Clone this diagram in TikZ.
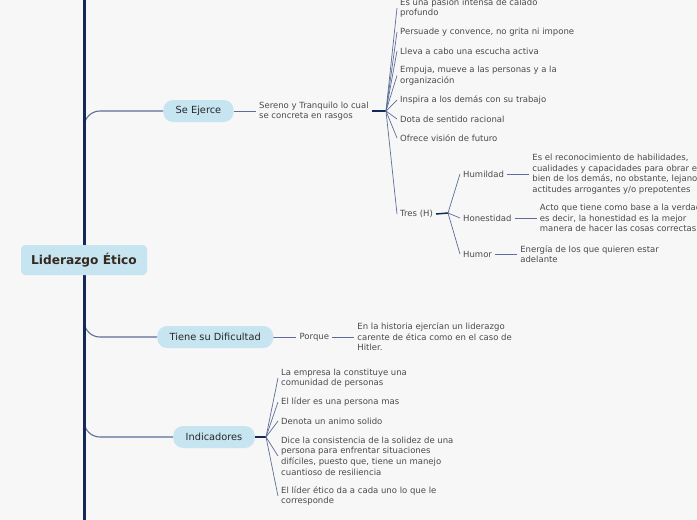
\documentclass[tikz,border=0pt]{standalone}
\usepackage{fontspec}
\setmainfont{DejaVu Sans}
\usepackage{tikz}
\usetikzlibrary{positioning, backgrounds, calc}
\definecolor{canvas}{HTML}{F7F7F7}
\definecolor{topicfill}{HTML}{C6E5F1}
\definecolor{spine}{HTML}{14295A}
\definecolor{twigblue}{HTML}{5D6E98}
\definecolor{leaftext}{HTML}{4A4A4A}
\definecolor{roottext}{HTML}{35281F}
\tikzset{
  central/.style={
    rectangle, rounded corners=4pt,
    minimum width=126pt, minimum height=30pt,
    fill=topicfill, text=roottext,
    font=\fontsize{12.2}{14}\selectfont\bfseries,
  },
  topic/.style={
    rectangle, rounded corners=10pt,
    minimum height=22pt, inner xsep=12.5pt,
    fill=topicfill, text=black!85,
    font=\fontsize{9.8}{11}\selectfont,
  },
  leaf/.style={
    inner xsep=3pt, inner ysep=1pt, align=left, anchor=west,
    text=leaftext, font=\fontsize{8.5}{10.6}\selectfont,
  },
  trunk/.style={line width=3pt, color=spine},
  branch/.style={line width=1.1pt, color=twigblue, rounded corners=16pt},
  twig/.style={line width=0.7pt, color=twigblue},
  hub/.style={line width=1.5pt, color=spine},
}

\begin{document}
\begin{tikzpicture}[x=1pt, y=-1pt]

  \useasboundingbox (0,0) rectangle (697,520);

  \node[central] (root) at (84,260) {Liderazgo Ético};
  \node[topic, anchor=west] (ejerce) at (163,111) {Se Ejerce};
  \node[topic, anchor=west] (dificultad) at (157,337) {Tiene su Dificultad};
  \node[topic, anchor=west] (indicadores) at (173,437) {Indicadores};

  % Se Ejerce
  \node[leaf, right=22pt of ejerce] (sereno) {Sereno y Tranquilo lo cual\\se concreta en rasgos};
  \coordinate (hubA) at (386,111);
  \node[leaf] (pasion) at (397,8) {Es una pasion intensa de calado\\profundo};
  \node[leaf] (persuade) at (397,32) {Persuade y convence, no grita ni impone};
  \node[leaf] (escucha) at (397,51) {Lleva a cabo una escucha activa};
  \node[leaf] (empuja) at (397,75.5) {Empuja, mueve a las personas y a la\\organización};
  \node[leaf] (inspira) at (397,100) {Inspira a los demás con su trabajo};
  \node[leaf] (dota) at (397,119) {Dota de sentido racional};
  \node[leaf] (futuro) at (397,138) {Ofrece visión de futuro};
  \node[leaf] (tres) at (397,214) {Tres (H)};

  \coordinate (hubB) at (448,213);
  \node[leaf] (humildad) at (460,174) {Humildad};
  \node[leaf] (honestidad) at (460,218) {Honestidad};
  \node[leaf] (humor) at (460,254) {Humor};
  \node[leaf, right=22pt of humildad] (humildadTxt) {Es el reconocimiento de habilidades,\\cualidades y capacidades para obrar en\\bien de los demás, no obstante, lejano de\\actitudes arrogantes y/o prepotentes};
  \node[leaf, right=22pt of honestidad] (honestidadTxt) {Acto que tiene como base a la verdad,\\es decir, la honestidad es la mejor\\manera de hacer las cosas correctas};
  \node[leaf, right=22pt of humor] (humorTxt) {Energía de los que quieren estar\\adelante};

  % Tiene su Dificultad
  \node[leaf, right=23pt of dificultad] (porque) {Porque};
  \node[leaf, right=22pt of porque] (historia) {En la historia ejercían un liderazgo\\carente de ética como en el caso de\\Hitler.};

  % Indicadores
  \coordinate (hubC) at (266,437);
  \node[leaf] (empresa) at (278,378) {La empresa la constituye una\\comunidad de personas};
  \node[leaf] (lider) at (278,402) {El líder es una persona mas};
  \node[leaf] (animo) at (278,421) {Denota un animo solido};
  \node[leaf] (consistencia) at (278,456) {Dice la consistencia de la solidez de una\\persona para enfrentar situaciones\\difíciles, puesto que, tiene un manejo\\cuantioso de resiliencia};
  \node[leaf] (etico) at (278,496) {El líder ético da a cada uno lo que le\\corresponde};

  \coordinate (top) at (84,0);
  \coordinate (bottom) at (84,520);

  \begin{scope}[on background layer]
    \fill[canvas] (0,0) rectangle (697,520);
    \draw[branch] (root.north) |- (ejerce.west);
    \draw[branch] (root.south) |- (dificultad.west);
    \draw[branch] (root.south) |- (indicadores.west);
    \draw[trunk] (top) -- (bottom);

    \draw[twig] (ejerce.east) -- (sereno.west);
    \draw[hub] (sereno.east) -- (hubA);
    \foreach \n in {pasion, persuade, escucha, empuja, inspira, dota, futuro, tres}
      \draw[twig] (hubA) -- (\n.west);

    \draw[hub] (tres.east) -- (hubB);
    \foreach \n in {humildad, honestidad, humor}
      \draw[twig] (hubB) -- (\n.west);
    \draw[twig] (humildad) -- (humildadTxt);
    \draw[twig] (honestidad) -- (honestidadTxt);
    \draw[twig] (humor) -- (humorTxt);

    \draw[twig] (dificultad) -- (porque);
    \draw[twig] (porque) -- (historia);

    \draw[hub] (indicadores.east) -- (hubC);
    \foreach \n in {empresa, lider, animo, consistencia, etico}
      \draw[twig] (hubC) -- (\n.west);
  \end{scope}

\end{tikzpicture}
\end{document}
